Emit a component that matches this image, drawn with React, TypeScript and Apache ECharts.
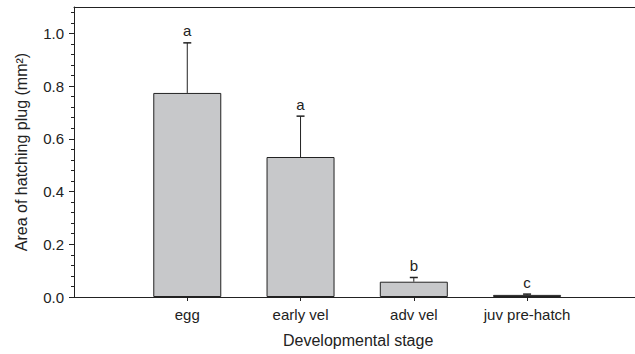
import React, { useEffect, useRef } from "react";
import * as echarts from "echarts";

const categories = ["egg", "early vel", "adv vel", "juv pre-hatch"];
const meanValues = [0.774, 0.531, 0.058, 0.008];
const upperErrorValues = [0.964, 0.686, 0.074, 0.011];
const groupLetters = ["a", "a", "b", "c"];
const yMajorTicks = [0, 0.2, 0.4, 0.6, 0.8, 1.0];
const yMinorTicks = [
  0.04, 0.08, 0.12, 0.16, 0.24, 0.28, 0.32, 0.36, 0.44, 0.48, 0.52, 0.56,
  0.64, 0.68, 0.72, 0.76, 0.84, 0.88, 0.92, 0.96, 1.04, 1.08,
];

const FONT = "Liberation Sans, Arial, sans-serif";
const INK = "#222";
const FS = 15;
const NAME_FS = 16;

export default function App() {
  const ref = useRef<HTMLDivElement>(null);
  useEffect(() => {
    if (!ref.current) return;
    const chart = echarts.init(ref.current, null, { renderer: "svg" });
    const positions = categories.map((_, i) => i + 1);
    const gridBox = { left: 74, top: 7, right: -28, bottom: 57, outerBoundsMode: "none", containLabel: false, show: false };
    chart.setOption({
      animation: false,
      textStyle: { fontFamily: FONT },
      grid: [{ ...gridBox }, { ...gridBox }],
      xAxis: [
        {
          type: "value",
          gridIndex: 0,
          min: 0,
          max: 5.2,
          splitLine: { show: false },
          axisLine: { lineStyle: { color: INK, width: 1 } },
          axisTick: { customValues: positions, length: 4, lineStyle: { color: INK } },
          axisLabel: {
            customValues: positions,
            formatter: (v: number) => categories[Math.round(v) - 1] ?? "",
            color: INK,
            fontSize: FS,
            fontFamily: FONT,
            margin: 10,
          },
          name: "Developmental stage",
          nameLocation: "start",
          nameGap: 0,
          nameTextStyle: {
            color: INK,
            fontSize: NAME_FS,
            fontFamily: FONT,
            align: "left",
            verticalAlign: "top",
            padding: [35, 0, 0, 209],
          },
        },
        {
          type: "value",
          gridIndex: 1,
          position: "top",
          min: 0,
          max: 5.2,
          splitLine: { show: false },
          axisLine: { show: true, onZero: false, lineStyle: { color: INK, width: 1 } },
          axisTick: { show: false },
          axisLabel: { show: false },
        },
      ],
      yAxis: [
        {
          type: "value",
          gridIndex: 0,
          min: 0,
          max: 1.1,
          interval: 0.2,
          splitLine: { show: false },
          axisLine: { show: true, lineStyle: { color: INK, width: 1 } },
          axisTick: { show: true, customValues: yMajorTicks, length: 5, lineStyle: { color: INK } },
          axisLabel: {
            customValues: yMajorTicks,
            formatter: (v: number) => v.toFixed(1),
            color: INK,
            fontSize: FS,
            fontFamily: FONT,
            margin: 10,
          },
          name: "Area of hatching plug (mm²)",
          nameLocation: "middle",
          nameGap: 45,
          nameTextStyle: { color: INK, fontSize: NAME_FS, fontFamily: FONT },
        },
        {
          type: "value",
          gridIndex: 1,
          min: 0,
          max: 1.1,
          splitLine: { show: false },
          axisLine: { show: false },
          axisLabel: { show: false },
          axisTick: { show: true, customValues: yMinorTicks, length: 3, lineStyle: { color: INK } },
        },
      ],
      series: [
        {
          type: "bar",
          xAxisIndex: 0,
          yAxisIndex: 0,
          barWidth: 68,
          data: meanValues.map((v, i) => [positions[i], v]),
          itemStyle: { color: "#c7c8ca", borderColor: INK, borderWidth: 1 },
        },
        {
          type: "custom",
          xAxisIndex: 0,
          yAxisIndex: 0,
          data: meanValues.map((v, i) => [positions[i], v, upperErrorValues[i], i]),
          renderItem: (params: any, api: any) => {
            const x = api.value(0);
            const base = api.coord([x, api.value(1)]);
            const top = api.coord([x, api.value(2)]);
            const idx = api.value(3);
            return {
              type: "group",
              children: [
                {
                  type: "line",
                  shape: { x1: base[0], y1: base[1], x2: top[0], y2: top[1] },
                  style: { stroke: INK, lineWidth: 1 },
                },
                {
                  type: "line",
                  shape: { x1: top[0] - 4, y1: top[1], x2: top[0] + 4, y2: top[1] },
                  style: { stroke: INK, lineWidth: 1.5 },
                },
                {
                  type: "text",
                  x: top[0],
                  y: top[1] - 12,
                  style: {
                    text: groupLetters[idx],
                    fill: INK,
                    font: `${FS}px ${FONT}`,
                    textAlign: "center",
                    textVerticalAlign: "middle",
                  },
                },
              ],
            };
          },
        },
      ],
    });
    return () => chart.dispose();
  }, []);
  return (
    <div
      ref={ref}
      style={{ position: "absolute", left: 0, top: 0, width: 635, height: 354 }}
    />
  );
}
